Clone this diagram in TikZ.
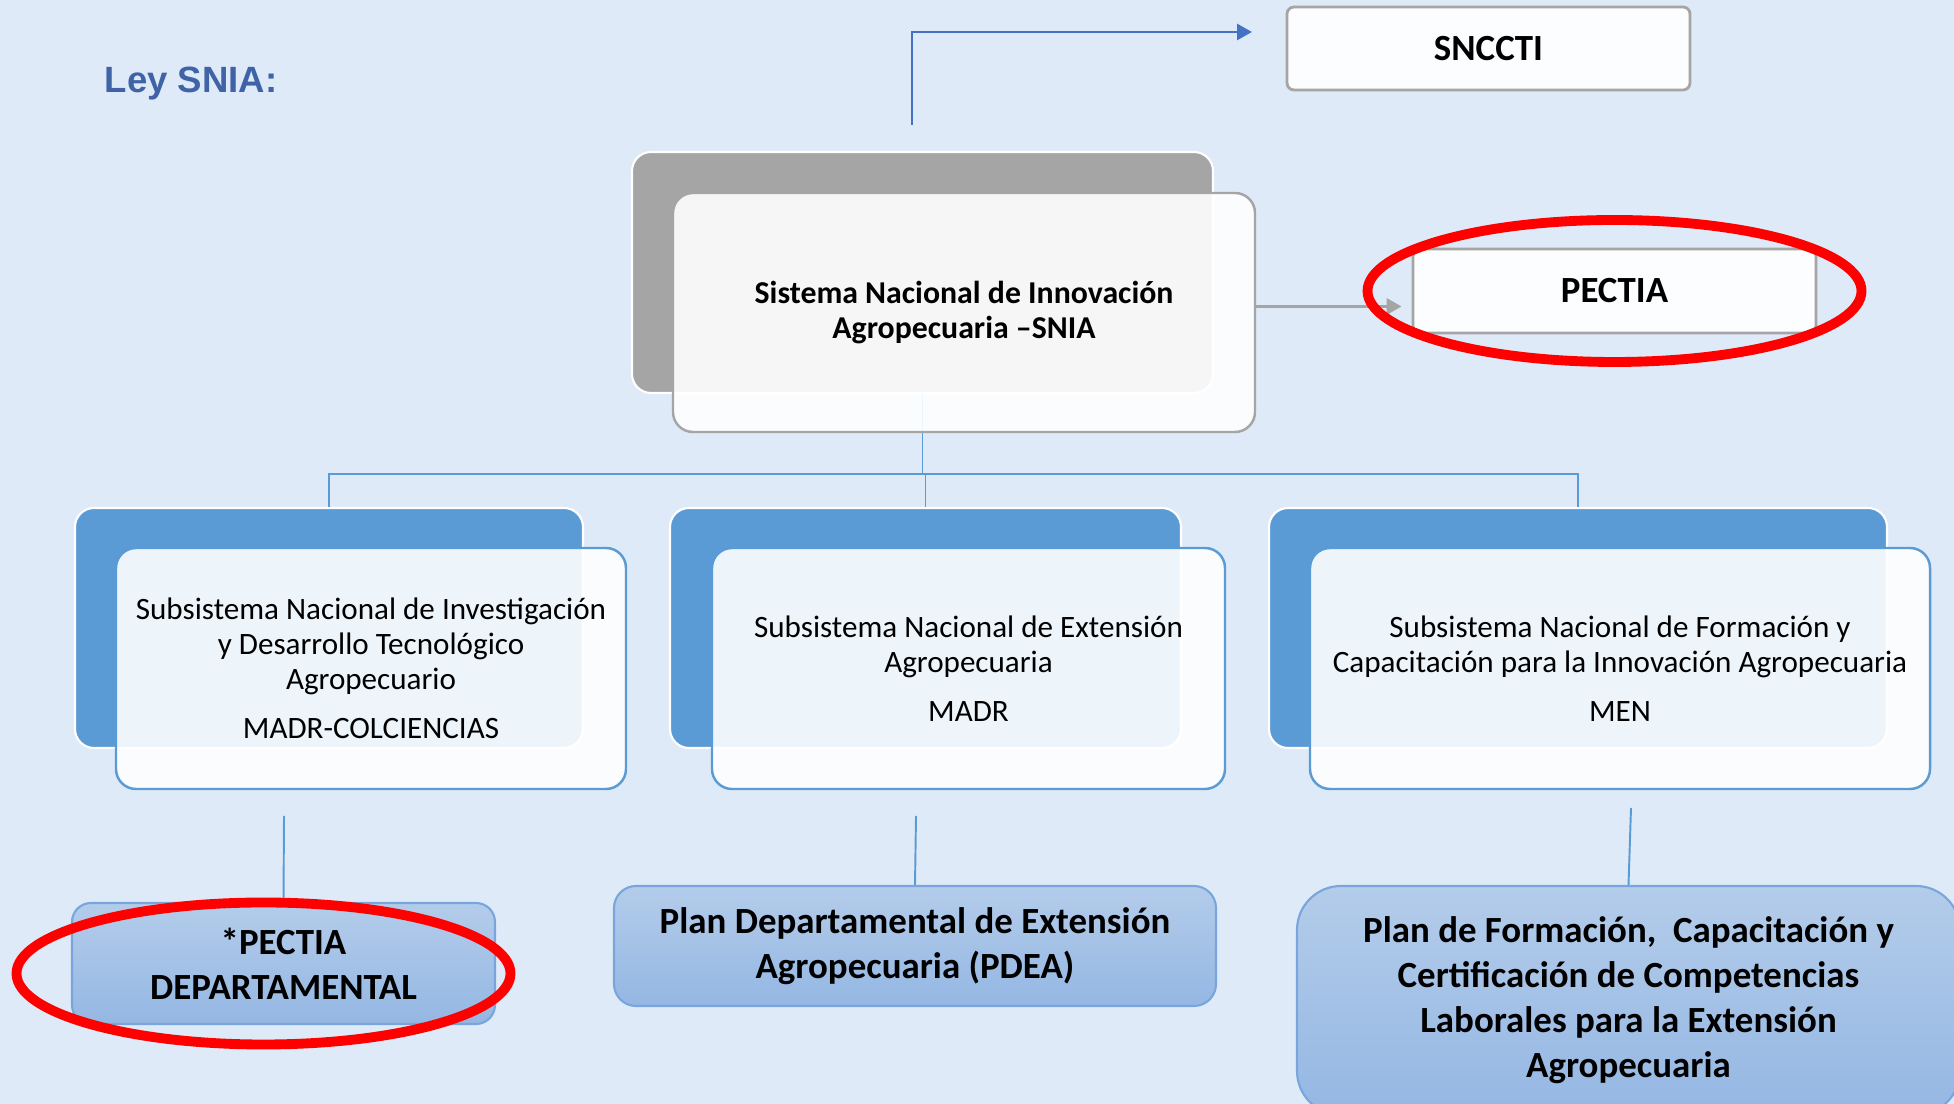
\documentclass[tikz,border=0pt]{standalone}
\usepackage{fontspec}
\setmainfont{Carlito}
\newfontfamily\leyfont{Liberation Sans}
\usetikzlibrary{positioning, arrows.meta}

\definecolor{bgblue}{HTML}{DFEAF8}
\definecolor{leyblue}{HTML}{3F63A6}
\definecolor{subblue}{HTML}{5B9BD5}
\definecolor{arrblue}{HTML}{4472C4}
\definecolor{snigray}{HTML}{A5A5A5}
\definecolor{plantop}{HTML}{B4CCEA}
\definecolor{planbot}{HTML}{94B7E3}
\definecolor{planedge}{HTML}{78A6DC}

\begin{document}
\begin{tikzpicture}
	[back/.style={rounded corners=0.19cm, draw=white, line width=0.6pt},
	 front/.style={rounded corners=0.2cm, fill=white, fill opacity=0.9, text opacity=1,
	   line width=0.7pt, align=center, font=\fontsize{8.85}{9.96}\selectfont},
	 topbox/.style={rounded corners=0.07cm, fill=white!70!bgblue!30!white, draw=snigray,
	   line width=0.8pt, font=\bfseries\fontsize{10.5}{12.8}\selectfont},
	 plan/.style={rounded corners=#1, draw=planedge, line width=0.6pt, top color=plantop,
	   bottom color=planbot, align=center, font=\bfseries\fontsize{10.5}{12.8}\selectfont},
	 tree/.style={draw=subblue, line width=0.55pt},
	 ring/.style={draw=red, line width=2.8pt}]
   \useasboundingbox (0,0) rectangle (19.54,-11.04);
   \clip (0,0) rectangle (19.54,-11.04);
   \fill[bgblue] (0,0) rectangle (19.54,-11.04);

   \node[text=leyblue, font=\leyfont\bfseries\fontsize{10.4}{12}\selectfont] (ley) at (1.91,-0.84) {Ley SNIA:};

   % top level
   \node[topbox, minimum width=4.03cm, minimum height=0.83cm] (sncc) at (14.885,-0.485) {SNCCTI};
   \node[topbox, minimum width=4.03cm, minimum height=0.84cm] (pectia) at (16.145,-2.91) {PECTIA};
   \node[back, fill=snigray, minimum width=5.81cm, minimum height=2.41cm] (snia_b) at (9.225,-2.725) {};
   \coordinate (hub) at (9.225,-4.74);
   \draw[tree] (snia_b.south) -- (hub);
   \node[front, draw=snigray, minimum width=5.82cm, minimum height=2.39cm, font=\bfseries\fontsize{9.05}{9.96}\selectfont] (snia_f) at (9.64,-3.125)
      {Sistema Nacional de Innovación\\Agropecuaria –SNIA};

   \coordinate (up_a) at (9.12,-1.25);
   \coordinate (up_b) at (12.52,-0.32);
   \draw[arrblue, line width=0.8pt, -{Triangle[length=0.15cm, width=0.16cm]}] (up_a) |- (up_b);
   \coordinate (g_a) at ([yshift=0.06cm]snia_f.east);
   \draw[snigray, line width=1pt, shorten >=0.1cm, -{Triangle[length=0.15cm, width=0.16cm]}]
      (g_a) -- (g_a -| pectia.west);

   % subsystems
   \node[back, fill=subblue, minimum width=5.08cm, minimum height=2.40cm] (b_1) at (3.29,-6.28) {};
   \node[back, fill=subblue, minimum width=5.11cm, minimum height=2.40cm] (b_2) at (9.255,-6.28) {};
   \node[back, fill=subblue, minimum width=6.18cm, minimum height=2.40cm] (b_3) at (15.78,-6.28) {};
   \foreach \i in {1,2,3}
      \draw[tree] (hub) -| (b_\i.north);

   \node[front, draw=subblue, minimum width=5.10cm, minimum height=2.41cm] (f_1) at (3.71,-6.685)
      {Subsistema Nacional de Investigación\\y Desarrollo Tecnológico\\Agropecuario\\[0.14cm]MADR-COLCIENCIAS};
   \node[front, draw=subblue, minimum width=5.13cm, minimum height=2.41cm] (f_2) at (9.685,-6.685)
      {Subsistema Nacional de Extensión\\Agropecuaria\\[0.14cm]MADR};
   \node[front, draw=subblue, minimum width=6.20cm, minimum height=2.41cm] (f_3) at (16.20,-6.685)
      {Subsistema Nacional de Formación y\\Capacitación para la Innovación Agropecuaria\\[0.14cm]MEN};

   % plans
   \node[plan=0.19cm, minimum width=4.23cm, minimum height=1.21cm] (p_1) at (2.835,-9.635)
      {*PECTIA\\DEPARTAMENTAL};
   \node[plan=0.22cm, minimum width=6.02cm, minimum height=1.20cm] (p_2) at (9.15,-9.46)
      {Plan Departamental de Extensión\\Agropecuaria (PDEA)};
   \node[plan=0.44cm, minimum width=6.63cm, minimum height=2.29cm] (p_3) at (16.285,-10.005)
      {Plan de Formación,\ \ Capacitación y\\Certificación de Competencias\\Laborales para la Extensión\\Agropecuaria};
   \coordinate (c_1) at (2.84,-8.16);
   \coordinate (c_2) at (9.16,-8.16);
   \coordinate (c_3) at (16.31,-8.08);
   \foreach \i in {1,2,3}
      \draw[tree] (p_\i.north) -- (c_\i);

   % red marks
   \draw[ring] (pectia.center) ellipse [x radius=2.47, y radius=0.71];
   \draw[ring] ([shift={(-0.2,-0.1)}]p_1.center) ellipse [x radius=2.47, y radius=0.71];
\end{tikzpicture}
\end{document}
